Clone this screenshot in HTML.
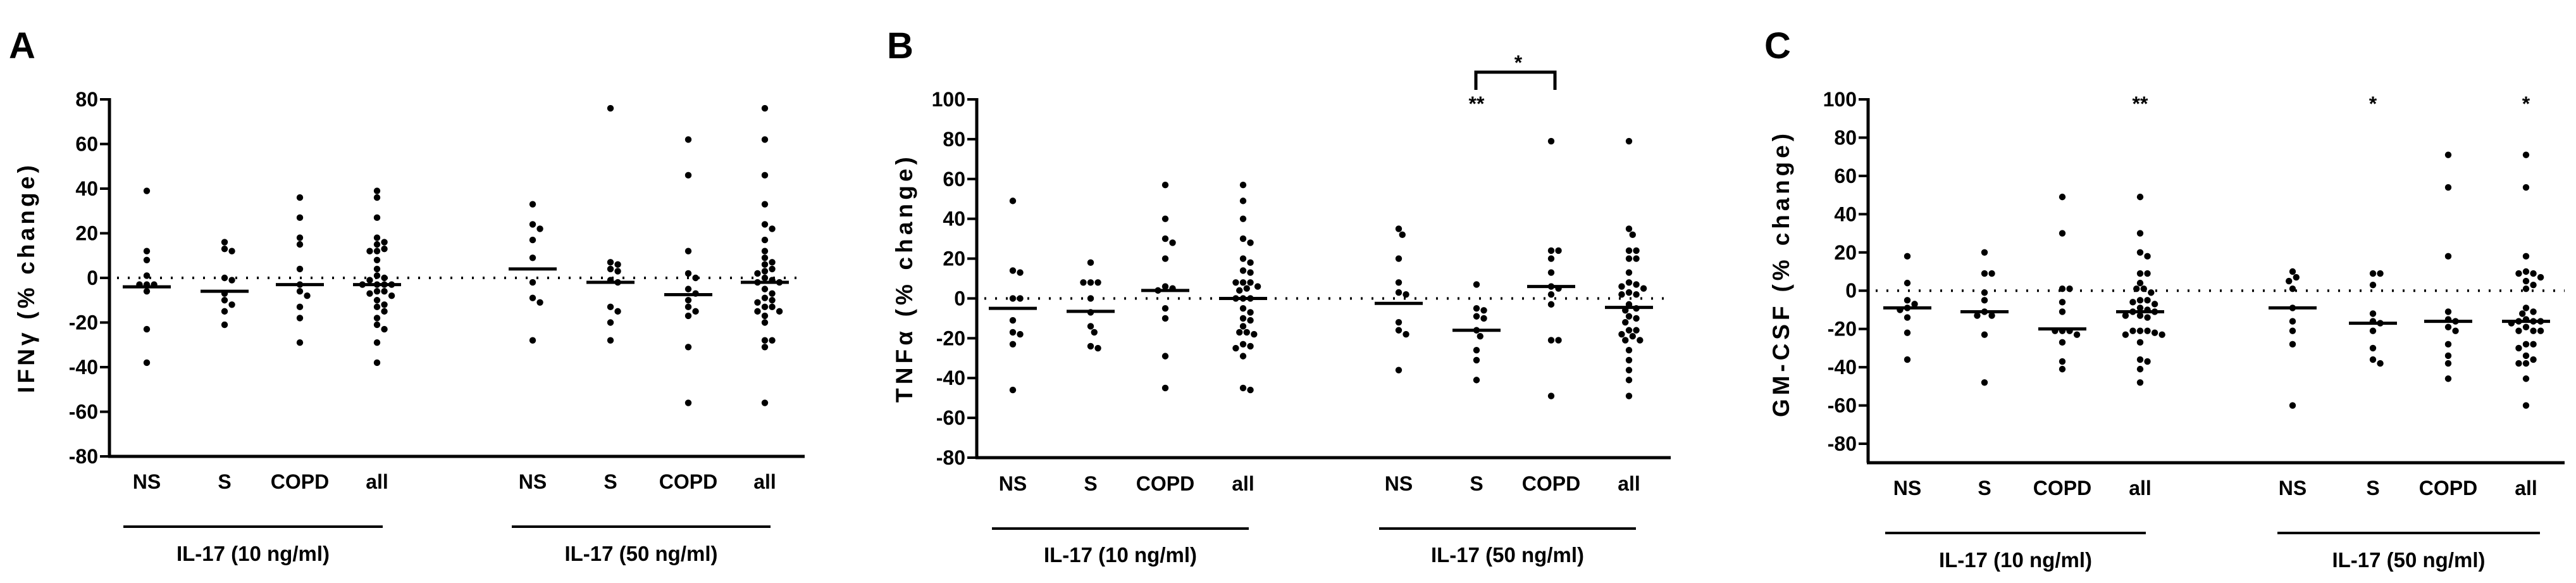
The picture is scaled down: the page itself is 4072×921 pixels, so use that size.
<!DOCTYPE html>
<html><head><meta charset="utf-8"><style>
html,body{margin:0;padding:0;background:#fff;}
svg{display:block;font-family:"Liberation Sans",Arial,sans-serif;font-weight:bold;}
</style></head><body>
<svg id="fig" width="4072" height="921" viewBox="0 0 4072 921" xmlns="http://www.w3.org/2000/svg"></svg>
<script>
// ---- Data (values in % change) ----
const categories = ["NS","S","COPD","all","NS","S","COPD","all"];
const groupLabels = ["IL-17 (10 ng/ml)","IL-17 (50 ng/ml)"];
const ticksA = [80,60,40,20,0,-20,-40,-60,-80];
const ticksBC = [100,80,60,40,20,0,-20,-40,-60,-80];

const ifnNS10 = [39,12,8,1,-3,-3,-3,-6,-23,-38];
const ifnS10 = [16,13,12,0,-1,-7,-10,-12,-15,-21];
const ifnCOPD10 = [36,27,18,15,4,-3,-6,-8,-13,-18,-29];
const ifnNS50 = [33,24,22,17,9,-2,-9,-11,-28];
const ifnS50 = [76,7,6,4,3,-1,-2,-13,-15,-20,-28];
const ifnCOPD50 = [62,46,12,2,0,-5,-7,-10,-13,-15,-17,-31,-56];
const ifnMedians = [-4,-6,-3,-3,4,-2,-7.5,-2];

const tnfNS10 = [49,14,13,0,0,-11,-17,-18,-23,-46];
const tnfS10 = [18,8,8,8,0,-7,-14,-17,-24,-25];
const tnfCOPD10 = [57,40,30,28,20,6,5,4,-5,-10,-29,-45];
const tnfNS50 = [35,32,20,8,3,2,-12,-16,-18,-36];
const tnfS50 = [7,-5,-6,-9,-10,-16,-19,-26,-31,-41];
const tnfCOPD50 = [79,24,24,20,13,6,5,2,-3,-21,-21,-49];
const tnfMedians = [-5,-6.5,4,0,-2.5,-16,6,-4.5];

const gmNS10 = [18,4,-5,-7,-9,-10,-14,-22,-36];
const gmS10 = [20,9,9,-1,-5,-11,-13,-13,-23,-48];
const gmCOPD10 = [49,30,1,1,-6,-11,-21,-21,-21,-23,-27,-37,-41];
const gmNS50 = [10,7,5,1,-9,-16,-21,-28,-60];
const gmS50 = [9,9,3,-12,-16,-17,-21,-30,-36,-38];
const gmCOPD50 = [71,54,18,-11,-15,-16,-19,-21,-28,-34,-38,-46];
const gmMedians = [-9,-11,-20,-11,-9,-17,-16,-16];

const NS="http://www.w3.org/2000/svg";
const svg=document.getElementById('fig');
function mk(tag,attrs,parent){const e=document.createElementNS(NS,tag);for(const k in attrs)e.setAttribute(k,attrs[k]);(parent||svg).appendChild(e);return e;}

function beeswarm(ys,d){
  // returns x offsets so dots don't overlap
  const order=ys.map((v,i)=>i).sort((a,b)=>ys[a]-ys[b]);
  const placed=[];const offs=new Array(ys.length).fill(0);
  order.forEach(i=>{
    const cand=[0];for(let k=1;k<20;k++){cand.push(k*d*0.55,-k*d*0.55);}
    for(const c of cand){
      let ok=true;
      for(const p of placed){const dx=p.x-c,dy=p.y-ys[i];if(dx*dx+dy*dy<d*d*0.9){ok=false;break;}}
      if(ok){offs[i]=c;placed.push({x:c,y:ys[i]});break;}
    }
  });
  return offs;
}

function drawPanel(p){
  const g=mk('g',{});
  
  
  const y=v=>p.yTop+(p.vmax-v)/(p.vmax-p.vmin)*(p.yBot-p.yTop);
  const L=mk('text',{x:p.letterX,y:92,'font-size':58},g);L.textContent=p.letter;
  
  
  const ya=mk('line',{x1:p.axisX,y1:p.yTop-2,x2:p.axisX,y2:p.xAxisY,stroke:'#000','stroke-width':5},g);
  
  
  const xa=mk('line',{x1:p.axisX-2,y1:p.xAxisY,x2:p.axisEnd,y2:p.xAxisY,stroke:'#000','stroke-width':5},g);
  
  
  p.ticks.forEach(t=>{
    const ty=y(t);
    mk('line',{x1:p.axisX-15,y1:ty,x2:p.axisX,y2:ty,stroke:'#000','stroke-width':4},g);
    const tl=mk('text',{x:p.axisX-18,y:ty+11,'font-size':32,'text-anchor':'end'},g);
    tl.textContent=t;
    
    
  });
  const zl=mk('line',{x1:p.axisX+12,y1:y(0),x2:p.axisEnd,y2:y(0),stroke:'#000','stroke-width':4,'stroke-dasharray':'3 14'},g);
  
  
  const yt=mk('text',{x:0,y:0,'font-size':37,'text-anchor':'middle',transform:`translate(${p.titleX},${p.titleY}) rotate(-90)`,textLength:p.titleLen,lengthAdjust:'spacing'},g);
  yt.textContent=p.title;
  
  
  p.series.forEach((vals,i)=>{
    const cx=p.catX[i];
    const ys=vals.map(v=>y(v));
    const offs=beeswarm(ys,10.5);
    vals.forEach((v,k)=>{
      const d=mk('circle',{cx:cx+offs[k],cy:ys[k],r:5.2,fill:'#000'},g);
      
      
    });
    const m=mk('line',{x1:cx-38,y1:y(p.medians[i]),x2:cx+38,y2:y(p.medians[i]),stroke:'#000','stroke-width':5},g);
    
    
    const cl=mk('text',{x:cx,y:p.catY,'font-size':32,'text-anchor':'middle'},g);
    cl.textContent=categories[i];
    
    
  });
  for(let k=0;k<2;k++){
    const gl=mk('line',{x1:p.groupX[k][0],y1:p.groupLineY,x2:p.groupX[k][1],y2:p.groupLineY,stroke:'#000','stroke-width':4},g);
    
    
    const gt=mk('text',{x:(p.groupX[k][0]+p.groupX[k][1])/2,y:p.groupTextY,'font-size':33,'text-anchor':'middle'},g);
    gt.textContent=groupLabels[k];
    
    
  }
  (p.stars||[]).forEach(s=>{
    const st=mk('text',{x:p.catX[s.i],y:s.y,'font-size':32,'text-anchor':'middle'},g);
    st.textContent=s.t;
    
    
  });
  return {g,y};
}

const cat=(a,b,c)=>a.concat(b,c);

drawPanel({id:'ifn',letter:'A',letterX:14,axisX:173,axisEnd:1272,yTop:157,yBot:721,xAxisY:721,vmax:80,vmin:-80,ticks:ticksA,
  title:'IFNγ (% change)',titleX:54,titleY:441,titleLen:360,
  catX:[232,355,474,596,842,965,1088,1209],catY:772,
  series:[ifnNS10,ifnS10,ifnCOPD10,cat(ifnNS10,ifnS10,ifnCOPD10),ifnNS50,ifnS50,ifnCOPD50,cat(ifnNS50,ifnS50,ifnCOPD50)],
  medians:ifnMedians,
  groupX:[[195,605],[809,1218]],groupLineY:832,groupTextY:886});

drawPanel({id:'tnf',letter:'B',letterX:1402,axisX:1544,axisEnd:2641,yTop:157,yBot:723,xAxisY:723,vmax:100,vmin:-80,ticks:ticksBC,
  title:'TNFα (% change)',titleX:1442,titleY:442,titleLen:388,
  catX:[1601,1724,1842,1965,2211,2334,2452,2575],catY:775,
  series:[tnfNS10,tnfS10,tnfCOPD10,cat(tnfNS10,tnfS10,tnfCOPD10),tnfNS50,tnfS50,tnfCOPD50,cat(tnfNS50,tnfS50,tnfCOPD50)],
  medians:tnfMedians,
  groupX:[[1568,1974],[2180,2586]],groupLineY:835,groupTextY:888,
  stars:[{i:5,t:'**',y:175}]});
const br=mk('path',{d:'M2333 142 L2333 114 L2458 114 L2458 142',fill:'none',stroke:'#000','stroke-width':5});


const bs=mk('text',{x:2400,y:110,'font-size':32,'text-anchor':'middle'});bs.textContent='*';



drawPanel({id:'gmcsf',letter:'C',letterX:2789,axisX:2953,axisEnd:4054,yTop:157,yBot:701,xAxisY:731,vmax:100,vmin:-80,ticks:ticksBC,
  title:'GM-CSF (% change)',titleX:2828,titleY:435,titleLen:448,
  catX:[3015,3137,3260,3383,3624,3751,3870,3993],catY:782,
  series:[gmNS10,gmS10,gmCOPD10,cat(gmNS10,gmS10,gmCOPD10),gmNS50,gmS50,gmCOPD50,cat(gmNS50,gmS50,gmCOPD50)],
  medians:gmMedians,
  groupX:[[2980,3392],[3600,4015]],groupLineY:842,groupTextY:896,
  stars:[{i:3,t:'**',y:175},{i:5,t:'*',y:175},{i:7,t:'*',y:175}]});
</script>
</body></html>
